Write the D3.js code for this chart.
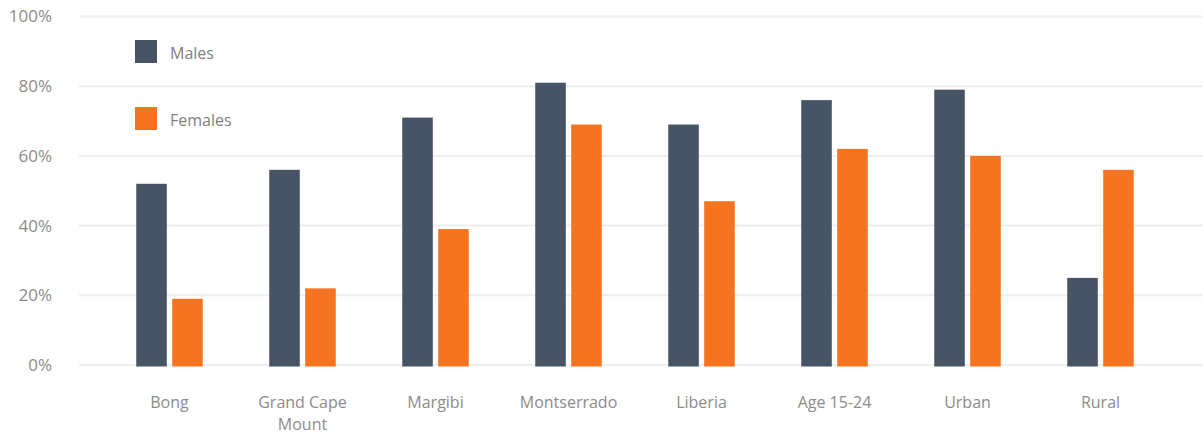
<!DOCTYPE html>
<html>
<head>
<meta charset="utf-8">
<script src="https://cdn.jsdelivr.net/npm/d3@7"></script>
<style>
  html, body { margin: 0; padding: 0; background: #fff; }
  svg { display: block; font-family: "Open Sans", sans-serif; }
</style>
</head>
<body>
<svg id="chart" width="1203" height="435"></svg>
<script>
const categories = ['Bong', 'Grand Cape Mount', 'Margibi', 'Montserrado', 'Liberia', 'Age 15-24', 'Urban', 'Rural'];
const seriesNames = ['Males', 'Females'];
const males = [52, 56, 71, 81, 69, 76, 79, 25];
const females = [19, 22, 39, 69, 47, 62, 60, 56];
const yTicks = [0, 20, 40, 60, 80, 100];

const colors = { Males: '#475465', Females: '#f57421' };

const rows = categories.map((c, i) => ({ category: c, Males: males[i], Females: females[i] }));

const svg = d3.select('#chart');
const width = 1203;
const height = 435;

const x0 = d3.scaleBand()
  .domain(categories)
  .range([103, 1167])
  .paddingInner(0.5)
  .paddingOuter(0.25);

const x1 = d3.scaleBand()
  .domain(seriesNames)
  .range([0, x0.bandwidth()])
  .paddingInner(0.15);

const y = d3.scaleLinear()
  .domain([0, 100])
  .range([365, 16.5]);

// gridlines
svg.append('g')
  .selectAll('line')
  .data(yTicks)
  .join('line')
  .attr('x1', 79)
  .attr('x2', width)
  .attr('y1', (d) => y(d))
  .attr('y2', (d) => y(d))
  .attr('stroke', '#eeeeee')
  .attr('stroke-width', 2);

// y axis labels
const yAxis = svg.append('g')
  .attr('transform', 'translate(52, 0)')
  .call(d3.axisLeft(y).tickValues(yTicks).tickSize(0).tickPadding(0).tickFormat((d) => `${d}%`));
yAxis.select('.domain').remove();
yAxis.selectAll('text')
  .attr('fill', '#8c8c8c')
  .attr('font-size', 17)
  .attr('font-family', '"Open Sans", sans-serif');

// bars
const groups = svg.append('g')
  .selectAll('g')
  .data(rows)
  .join('g')
  .attr('transform', (d) => `translate(${x0(d.category)}, 0)`);

groups.selectAll('rect')
  .data((d) => seriesNames.map((s) => ({ key: s, value: d[s] })))
  .join('rect')
  .attr('x', (d) => x1(d.key))
  .attr('y', (d) => y(d.value))
  .attr('width', x1.bandwidth())
  .attr('height', (d) => y(0) - y(d.value) + 1.5)
  .attr('fill', (d) => colors[d.key]);

// category labels
const xAxis = svg.append('g')
  .attr('transform', 'translate(0, 397)')
  .call(d3.axisBottom(x0).tickSize(0).tickPadding(0));
xAxis.select('.domain').remove();
xAxis.selectAll('text')
  .attr('fill', '#8c8c8c')
  .attr('font-size', 16)
  .attr('font-family', '"Open Sans", sans-serif')
  .each(function (d) {
    const t = d3.select(this);
    if (d === 'Grand Cape Mount') {
      t.text(null);
      t.append('tspan').attr('x', 0).attr('dy', '0.71em').text('Grand Cape');
      t.append('tspan').attr('x', 0).attr('dy', '1.36em').text('Mount');
    }
  });

// legend
const legend = svg.append('g')
  .attr('transform', 'translate(135, 40)');

legend.selectAll('rect')
  .data(seriesNames)
  .join('rect')
  .attr('x', 0)
  .attr('y', (_, i) => i * 67)
  .attr('width', 22)
  .attr('height', 23)
  .attr('fill', (d) => colors[d]);

legend.selectAll('text')
  .data(seriesNames)
  .join('text')
  .attr('x', 35)
  .attr('y', (_, i) => i * 67 + 15)
  .attr('dominant-baseline', 'middle')
  .attr('fill', '#808080')
  .attr('font-size', 16)
  .text((d) => d);
</script>
</body>
</html>
